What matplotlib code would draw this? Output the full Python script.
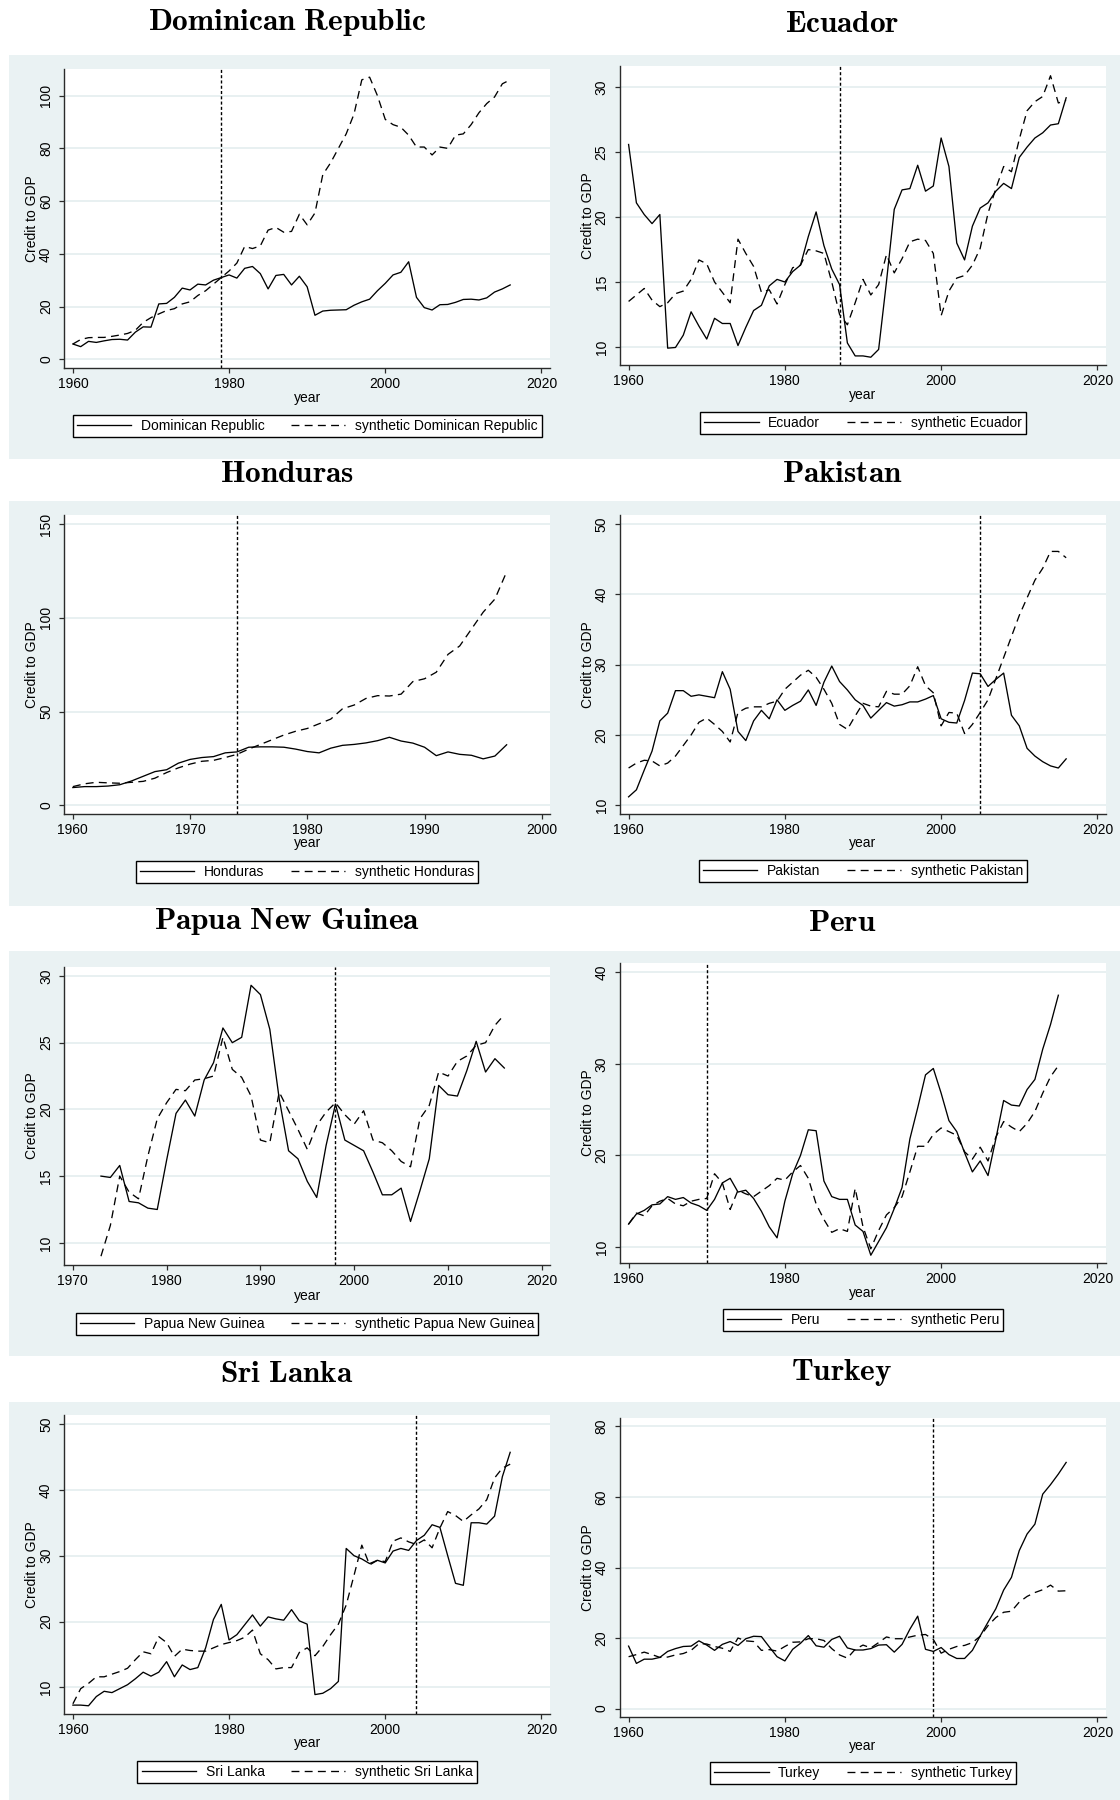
import numpy as np
import matplotlib
matplotlib.use("Agg")
import matplotlib.pyplot as plt
from matplotlib.patches import Rectangle

plt.rcParams['font.family'] = ['Liberation Sans', 'DejaVu Sans']
plt.rcParams['mathtext.fontset'] = 'cm'

# ---------------- data ----------------
countries = ["Dominican Republic", "Ecuador", "Honduras", "Pakistan",
             "Papua New Guinea", "Peru", "Sri Lanka", "Turkey"]
start_years = [1960, 1960, 1960, 1960, 1973, 1960, 1960, 1960]
treat_years = [1979, 1987, 1974, 2005, 1998, 1970, 2004, 1999]

dr_actual = [5.8, 4.8, 6.8, 6.4, 7.0, 7.5, 7.6, 7.3, 10.3, 12.3,
             12.2, 21.0, 21.2, 23.5, 27.0, 26.3, 28.5, 28.2, 30.0, 31.0,
             32.0, 30.8, 34.5, 35.2, 32.5, 26.7, 31.8, 32.2, 28.2, 31.5,
             27.5, 16.7, 18.3, 18.6, 18.7, 18.8, 20.5, 21.8, 22.8, 26.0,
             28.8, 32.0, 33.0, 37.0, 23.5, 19.6, 18.7, 20.7, 20.8, 21.6,
             22.7, 22.8, 22.5, 23.3, 25.5, 26.7, 28.2]
dr_synth = [5.8, 7.5, 8.2, 8.3, 8.3, 8.7, 9.2, 9.8, 11.0, 14.0,
            15.8, 17.2, 18.5, 19.2, 21.0, 21.8, 24.2, 26.0, 28.5, 31.0,
            33.5, 36.5, 42.8, 42.0, 43.0, 49.0, 50.0, 48.2, 48.5, 55.0,
            51.0, 55.5, 70.0, 74.5, 80.0, 85.5, 93.0, 106.0, 107.0, 100.0,
            91.0, 89.0, 88.0, 85.0, 80.5, 80.5, 77.5, 80.5, 80.0, 85.0,
            85.5, 89.0, 93.5, 97.0, 99.5, 104.5, 106.0]

ec_actual = [25.6, 21.1, 20.2, 19.5, 20.2, 9.9, 9.95, 10.9, 12.7, 11.6,
             10.6, 12.2, 11.8, 11.8, 10.1, 11.5, 12.8, 13.2, 14.7, 15.2,
             15.0, 15.8, 16.3, 18.5, 20.4, 17.8, 16.0, 14.8, 10.3, 9.3,
             9.3, 9.2, 9.8, 15.0, 20.6, 22.1, 22.2, 24.0, 22.0, 22.4,
             26.1, 23.9, 18.0, 16.7, 19.3, 20.7, 21.1, 22.0, 22.6, 22.2,
             24.6, 25.4, 26.1, 26.5, 27.1, 27.2, 29.2]
ec_synth = [13.5, 14.0, 14.5, 13.6, 13.1, 13.4, 14.1, 14.3, 15.2, 16.7,
            16.4, 15.0, 14.2, 13.4, 18.3, 17.2, 16.2, 14.2, 14.4, 13.3,
            14.8, 16.1, 16.3, 17.5, 17.4, 17.2, 15.0, 12.5, 11.7, 13.4,
            15.2, 14.0, 14.8, 17.1, 15.7, 16.8, 18.1, 18.3, 18.2, 17.2,
            12.4, 14.3, 15.3, 15.5, 16.3, 17.6, 20.3, 22.2, 23.9, 23.5,
            26.0, 28.2, 28.9, 29.3, 30.9, 28.8, 29.0]

hn_actual = [9.5, 10.0, 10.0, 10.3, 11.0, 13.0, 15.5, 18.0, 19.0, 22.5,
             24.5, 25.5, 26.0, 28.0, 28.5, 31.0, 31.2, 31.2, 31.0, 30.0,
             28.7, 28.0, 30.5, 32.0, 32.5, 33.3, 34.5, 36.3, 34.3, 33.2,
             31.0, 26.5, 28.5, 27.2, 26.7, 24.8, 26.3, 32.3]
hn_synth = [10.0, 11.5, 12.3, 12.0, 11.8, 12.3, 12.8, 14.5, 17.5, 20.0,
            22.0, 23.5, 24.0, 25.5, 27.2, 30.0, 32.5, 35.0, 37.5, 39.5,
            41.0, 43.5, 46.0, 51.5, 53.5, 57.0, 58.5, 58.3, 59.3, 66.0,
            67.5, 71.0, 80.5, 85.0, 94.0, 103.0, 110.0, 124.5]

pk_actual = [11.2, 12.2, 15.0, 17.7, 22.0, 23.1, 26.3, 26.3, 25.5, 25.7,
             25.5, 25.3, 29.0, 26.5, 20.5, 19.2, 22.0, 23.5, 22.3, 25.0,
             23.5, 24.2, 24.8, 26.4, 24.2, 27.5, 29.8, 27.6, 26.4, 25.0,
             24.2, 22.4, 23.5, 24.6, 24.1, 24.3, 24.7, 24.7, 25.1, 25.6,
             22.3, 21.8, 21.7, 24.9, 28.8, 28.7, 26.9, 27.9, 28.8, 22.8,
             21.3, 18.1, 17.0, 16.2, 15.6, 15.3, 16.6]
pk_synth = [15.3, 16.0, 16.4, 16.3, 15.6, 16.0, 17.0, 18.5, 20.0, 21.8,
            22.4, 21.5, 20.5, 19.0, 23.2, 23.8, 24.0, 24.0, 24.5, 24.8,
            26.5, 27.5, 28.5, 29.2, 28.2, 26.5, 24.5, 21.5, 20.8, 22.7,
            24.5, 24.1, 24.0, 26.2, 25.8, 25.8, 27.0, 29.7, 27.0, 26.0,
            21.3, 23.2, 23.1, 20.2, 21.5, 23.2, 25.0, 28.0, 31.0, 34.0,
            37.0, 39.5, 42.0, 43.7, 46.1, 46.1, 45.2]

pg_actual = [15.0, 14.9, 15.8, 13.1, 13.0, 12.6, 12.5,
             16.2, 19.7, 20.7, 19.5, 22.2, 23.5, 26.1, 25.0, 25.4, 29.3,
             28.6, 26.0, 20.8, 16.9, 16.3, 14.6, 13.4, 17.3, 20.4, 17.7,
             17.3, 16.9, 15.3, 13.6, 13.6, 14.1, 11.6, 13.9, 16.3, 21.8,
             21.1, 21.0, 22.9, 25.1, 22.8, 23.8, 23.1]
pg_synth = [9.0, 11.3, 15.0, 13.8, 13.3, 16.5, 19.3,
            20.5, 21.5, 21.4, 22.2, 22.3, 22.5, 25.4, 23.0, 22.4, 21.0,
            17.7, 17.5, 21.3, 19.9, 18.5, 17.0, 18.8, 19.8, 20.5, 19.6,
            18.9, 19.9, 17.7, 17.5, 16.9, 16.1, 15.7, 19.3, 20.3, 22.8,
            22.5, 23.6, 24.0, 24.8, 25.0, 26.3, 27.1]

pe_actual = [12.5, 13.6, 14.0, 14.6, 14.7, 15.5, 15.2, 15.4, 14.8, 14.5,
             14.0, 15.2, 17.0, 17.5, 16.0, 16.2, 15.3, 13.9, 12.2, 11.0,
             15.0, 18.0, 20.0, 22.8, 22.7, 17.2, 15.5, 15.2, 15.2, 12.4,
             11.7, 9.1, 10.6, 12.1, 14.2, 16.5, 21.8, 25.2, 28.8, 29.5,
             26.8, 23.8, 22.6, 20.3, 18.2, 19.4, 17.8, 21.8, 26.0, 25.5,
             25.4, 27.2, 28.3, 31.6, 34.3, 37.5]
pe_synth = [12.5, 13.7, 13.4, 14.5, 15.0, 15.3, 14.7, 14.5, 15.0, 15.2,
            15.3, 18.0, 17.0, 14.1, 16.2, 15.8, 15.5, 16.1, 16.7, 17.5,
            17.3, 18.2, 18.9, 17.5, 14.7, 13.0, 11.6, 12.0, 11.7, 16.4,
            12.2, 9.8, 11.8, 13.5, 14.3, 15.5, 18.2, 21.0, 21.0, 22.3,
            23.0, 22.6, 22.2, 20.4, 19.6, 20.9, 19.4, 22.0, 23.7, 23.1,
            22.6, 23.5, 24.8, 26.8, 28.6, 29.8]

lk_actual = [7.3, 7.3, 7.2, 8.6, 9.4, 9.2, 9.8, 10.4, 11.3, 12.3,
             11.7, 12.3, 13.9, 11.6, 13.4, 12.7, 13.0, 16.0, 20.3, 22.6,
             17.2, 18.0, 19.5, 21.0, 19.3, 20.7, 20.4, 20.2, 21.8, 20.1,
             19.6, 8.9, 9.1, 9.8, 10.9, 31.1, 30.0, 29.5, 28.8, 29.3,
             28.9, 30.7, 31.1, 30.8, 32.3, 33.1, 34.7, 34.3, 30.0, 25.8,
             25.5, 35.0, 35.0, 34.8, 36.0, 42.0, 45.7]
lk_synth = [7.5, 9.8, 10.6, 11.6, 11.6, 12.0, 12.4, 12.9, 14.2, 15.4,
            15.1, 17.7, 16.8, 14.7, 15.8, 15.6, 15.5, 15.5, 16.0, 16.5,
            16.8, 17.1, 17.6, 18.7, 15.1, 14.2, 12.8, 13.0, 13.0, 15.3,
            16.0, 14.8, 16.2, 18.0, 19.6, 22.5, 27.0, 31.6, 28.6, 29.3,
            29.1, 32.2, 32.7, 32.1, 31.7, 32.4, 31.2, 34.2, 36.7, 36.1,
            35.2, 36.2, 37.1, 38.5, 41.8, 43.3, 43.9]

tr_actual = [17.7, 12.8, 14.0, 14.0, 14.5, 16.2, 17.0, 17.6, 17.7, 19.2,
             18.0, 16.5, 18.2, 19.0, 17.9, 19.8, 20.5, 20.4, 17.5, 14.7,
             13.5, 16.8, 18.5, 20.7, 17.8, 17.4, 19.6, 20.5, 17.2, 16.6,
             16.6, 17.0, 18.0, 18.1, 16.0, 18.2, 22.5, 26.2, 16.8, 16.2,
             17.3, 15.3, 14.2, 14.2, 16.5, 20.6, 24.5, 28.3, 33.6, 37.2,
             44.8, 49.5, 52.3, 60.8, 63.5, 66.5, 69.8]
tr_synth = [14.7, 15.3, 16.0, 15.3, 14.5, 14.6, 15.2, 15.6, 16.5, 18.4,
            18.3, 17.6, 17.1, 16.2, 20.0, 19.2, 19.0, 16.5, 16.7, 16.3,
            17.6, 18.8, 18.9, 19.8, 19.8, 19.3, 17.0, 15.2, 14.3, 16.8,
            18.0, 17.2, 18.7, 20.3, 19.8, 19.8, 20.3, 20.8, 21.0, 19.6,
            15.7, 16.8, 17.6, 17.9, 18.7, 20.5, 23.5, 25.8, 27.3, 27.6,
            30.2, 31.8, 32.9, 33.7, 35.0, 33.3, 33.4]

actual_series = [dr_actual, ec_actual, hn_actual, pk_actual,
                 pg_actual, pe_actual, lk_actual, tr_actual]
synth_series = [dr_synth, ec_synth, hn_synth, pk_synth,
                pg_synth, pe_synth, lk_synth, tr_synth]

yticks_list = [[0, 20, 40, 60, 80, 100], [10, 15, 20, 25, 30],
               [0, 50, 100, 150], [10, 20, 30, 40, 50],
               [10, 15, 20, 25, 30], [10, 20, 30, 40],
               [10, 20, 30, 40, 50], [0, 20, 40, 60, 80]]
xticks_list = [[1960, 1980, 2000, 2020], [1960, 1980, 2000, 2020],
               [1960, 1970, 1980, 1990, 2000], [1960, 1980, 2000, 2020],
               [1970, 1980, 1990, 2000, 2010, 2020], [1960, 1980, 2000, 2020],
               [1960, 1980, 2000, 2020], [1960, 1980, 2000, 2020]]

# ---------------- layout (pixels) ----------------
W, H = 1120, 1800
ylims = [(-3.3, 110.1), (8.6, 31.65), (-4.6, 154.8), (8.76, 51.28),
         (8.34, 30.67), (8.25, 41.02), (5.95, 51.37), (-2.4, 82.4)]
xlims = [(1958.9, 2021.1), (1958.9, 2021.1), (1959.27, 2000.7), (1958.9, 2021.1),
         (1969.09, 2020.87), (1958.9, 2021.1), (1958.9, 2021.1), (1958.9, 2021.1)]
rects = [(64.3, 69, 550, 368), (620, 66, 1106, 365),
         (64.3, 515, 550, 814), (620, 515, 1106, 814),
         (64.3, 967, 550, 1265), (620, 963, 1106, 1263),
         (64.3, 1415, 550, 1714), (620, 1418, 1106, 1717)]
title_y = [23, 24, 474, 474, 921, 923, 1374, 1373]
legend_y = [426, 423, 872, 871, 1324, 1320, 1772, 1773]
xlabel_y = [398, 395, 843, 843, 1296, 1293, 1743, 1746]

BG = '#EAF2F3'
AX = '#2b2b2b'

fig = plt.figure(figsize=(W / 100, H / 100), dpi=100)
fig.patch.set_facecolor('white')

for top, bot in [(55, 459), (501, 906), (951, 1356), (1402, 1800)]:
    fig.patches.append(Rectangle((8.5 / W, 1 - bot / H), (W - 8.5) / W, (bot - top) / H,
                                 transform=fig.transFigure, facecolor=BG,
                                 edgecolor='none', zorder=-10))

for i, name in enumerate(countries):
    x0, y0, x1, y1 = rects[i]
    ax = fig.add_axes([x0 / W, 1 - y1 / H, (x1 - x0) / W, (y1 - y0) / H])
    ax.set_zorder(2)
    ax.set_facecolor('white')
    years = np.arange(start_years[i], start_years[i] + len(actual_series[i]))
    l1, = ax.plot(years, actual_series[i], color='black', lw=0.95,
                  solid_joinstyle='round', label=name)
    l2, = ax.plot(years, synth_series[i], color='black', lw=0.95,
                  linestyle=(0, (6, 4)), label='synthetic ' + name)
    ax.axvline(treat_years[i], color='black', lw=1.0, linestyle=(0, (2.2, 1.6)))

    ax.set_xlim(*xlims[i])
    ax.set_ylim(*ylims[i])
    ax.set_xticks(xticks_list[i])
    ax.set_yticks(yticks_list[i])
    ax.yaxis.grid(True, color='#E6EFF0', lw=1.3)
    ax.set_axisbelow(True)
    for s in ['top', 'right']:
        ax.spines[s].set_visible(False)
    for s in ['left', 'bottom']:
        ax.spines[s].set_color(AX)
        ax.spines[s].set_linewidth(1.0)
    ax.tick_params(axis='both', direction='out', length=3.6, width=0.9,
                   color=AX, labelsize=10, labelcolor='black')
    ax.tick_params(axis='y', pad=4.5)
    ax.tick_params(axis='x', pad=2.6)
    for lab in ax.get_yticklabels():
        lab.set_rotation(90)
        lab.set_va('center')

    ph = y1 - y0
    pw = x1 - x0
    ax.set_ylabel('Credit to GDP', fontsize=10, va='center')
    ax.yaxis.set_label_coords(-32 / pw, 0.5)
    ax.set_xlabel('year', fontsize=10, va='center')
    ax.xaxis.set_label_coords(0.5, -(xlabel_y[i] - y1) / ph)

    cx = (x0 + x1) / 2
    title_x = 287 if x0 < 300 else 842
    ttl = name.replace(' ', r'\ ')
    fig.text(title_x / W, 1 - title_y[i] / H, r'$\mathbf{' + ttl + '}$',
             ha='center', va='center', fontsize=22.5)

    leg = ax.legend(handles=[l1, l2], loc='center',
                    bbox_to_anchor=(cx / W, 1 - legend_y[i] / H),
                    bbox_transform=fig.transFigure, ncol=2, fontsize=10,
                    frameon=True, fancybox=False, framealpha=1,
                    edgecolor='black', handlelength=3.9, handletextpad=0.7,
                    columnspacing=1.9, borderpad=0.3)
    leg.get_frame().set_linewidth(1.0)

fig.savefig('out.png', dpi=100, facecolor='white')
